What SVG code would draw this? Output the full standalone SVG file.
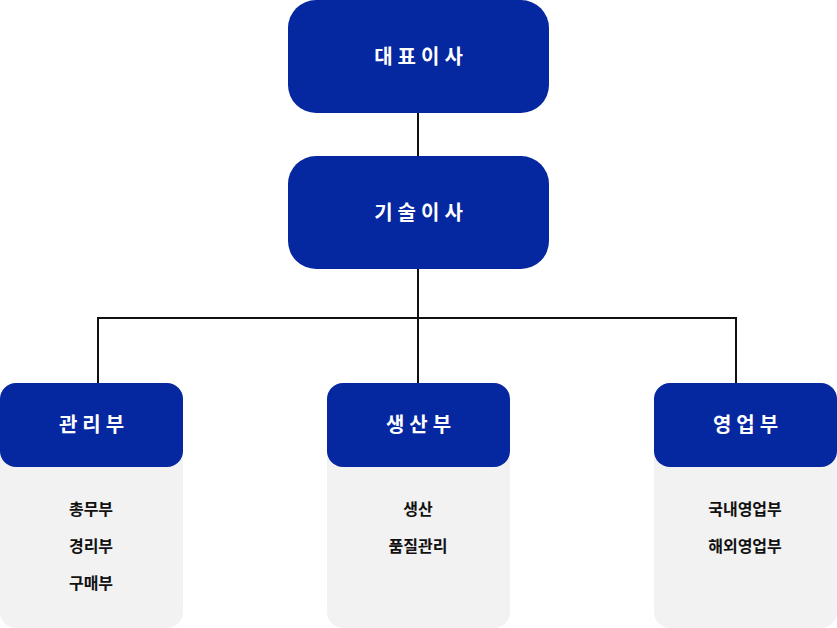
<svg xmlns="http://www.w3.org/2000/svg" width="837" height="628" viewBox="0 0 837 628">
<style>
.b{fill:#0527a0}
.p{fill:#f2f2f2}
.t{fill:#fff;font-family:"Noto Sans CJK KR",sans-serif;font-weight:bold;font-size:20px;letter-spacing:5px;text-anchor:middle}
.s{fill:#111;font-family:"Noto Sans CJK KR",sans-serif;font-weight:bold;font-size:16px;text-anchor:middle}
.c{stroke:#111;stroke-width:2;fill:none}
</style>
<rect width="837" height="628" fill="#fff"/>
<g id="connectors">
<path class="c" d="M418 113V156M418 269V383M98 383V318H736V383"/>
</g>
<g id="ceo"><rect class="b" x="288" y="0" width="261" height="113" rx="28"/><text class="t" x="421" y="64">대표이사</text></g>
<g id="cto"><rect class="b" x="288" y="156" width="261" height="113" rx="28"/><text class="t" x="421" y="220">기술이사</text></g>
<g id="admin"><rect class="p" x="0" y="383" width="183" height="245" rx="16"/><rect class="b" x="0" y="383" width="183" height="84" rx="16"/><text class="t" x="94" y="432">관리부</text>
<text class="s" x="91" y="515">총무부</text><text class="s" x="91" y="552">경리부</text><text class="s" x="91" y="589">구매부</text></g>
<g id="prod"><rect class="p" x="327" y="383" width="183" height="245" rx="16"/><rect class="b" x="327" y="383" width="183" height="84" rx="16"/><text class="t" x="421" y="432">생산부</text>
<text class="s" x="418" y="515">생산</text><text class="s" x="418" y="552">품질관리</text></g>
<g id="sales"><rect class="p" x="654" y="383" width="183" height="245" rx="16"/><rect class="b" x="654" y="383" width="183" height="84" rx="16"/><text class="t" x="748" y="432">영업부</text>
<text class="s" x="745" y="515">국내영업부</text><text class="s" x="745" y="552">해외영업부</text></g>
</svg>
